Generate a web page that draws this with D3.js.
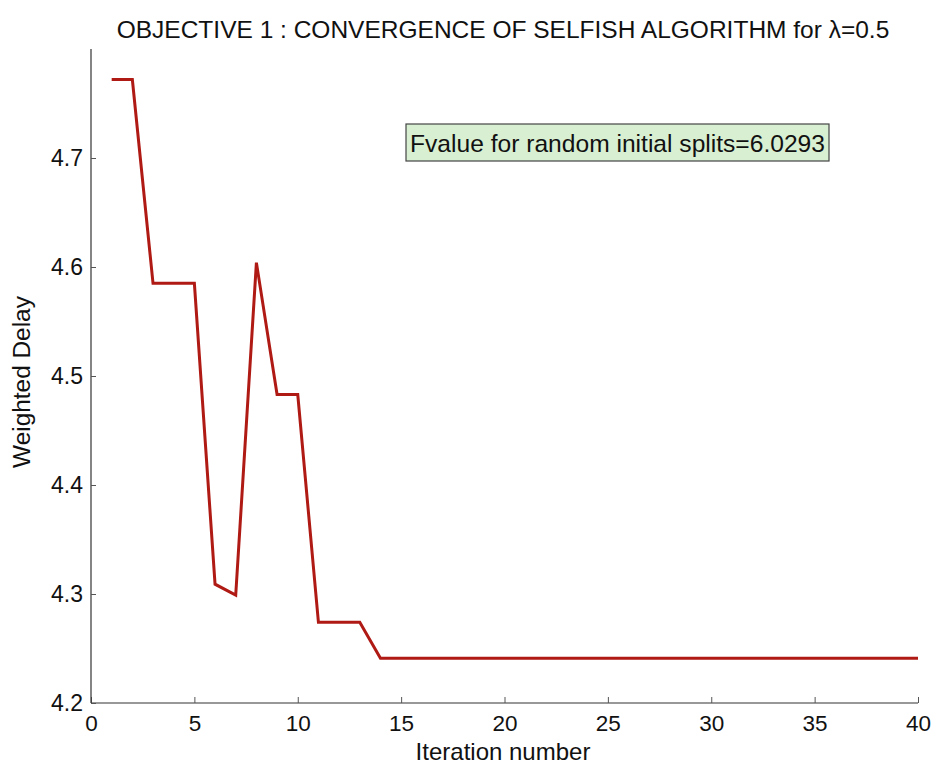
<!DOCTYPE html>
<html>
<head>
<meta charset="utf-8">
<script src="https://cdn.jsdelivr.net/npm/d3@7"></script>
<style>
  html, body { margin: 0; padding: 0; background: #fff; }
  svg { display: block; font-family: "Liberation Sans", Arial, sans-serif; }
</style>
</head>
<body>
<svg id="chart" width="935" height="766"></svg>
<script>
// Iteration numbers and the weighted delay reached at each one
const iterations = d3.range(1, 41);
const weightedDelay = [
  4.772, 4.772, 4.585, 4.585, 4.585, 4.309, 4.299, 4.604, 4.483, 4.483,
  4.274, 4.274, 4.274, 4.241, 4.241, 4.241, 4.241, 4.241, 4.241, 4.241,
  4.241, 4.241, 4.241, 4.241, 4.241, 4.241, 4.241, 4.241, 4.241, 4.241,
  4.241, 4.241, 4.241, 4.241, 4.241, 4.241, 4.241, 4.241, 4.241, 4.241
];
const xTicks = [0, 5, 10, 15, 20, 25, 30, 35, 40];
const yTicks = [4.2, 4.3, 4.4, 4.5, 4.6, 4.7];
const titleText = "OBJECTIVE 1 : CONVERGENCE OF SELFISH ALGORITHM for ";
const annotationText = "Fvalue for random initial splits=6.0293";

const svg = d3.select("#chart");
const plotL = 91, plotR = 918, plotT = 49, plotB = 703;

const x = d3.scaleLinear().domain([0, 40]).range([plotL, plotR]);
const y = d3.scaleLinear().domain([4.2, 4.8]).range([plotB, plotT]);

// Axes: ticks point into the plot area
const xAxis = d3.axisBottom(x).tickValues(xTicks).tickSize(-6).tickPadding(12).tickFormat(d3.format("d"));
const yAxis = d3.axisLeft(y).tickValues(yTicks).tickSize(-5).tickPadding(8).tickFormat(d3.format(".1f"));

const gx = svg.append("g").attr("transform", `translate(0,${plotB})`).call(xAxis);
const gy = svg.append("g").attr("transform", `translate(${plotL},0)`).call(yAxis);
[gx, gy].forEach(g => {
  g.select(".domain").attr("stroke", "#333").attr("stroke-width", 1.2);
  g.selectAll(".tick line").attr("stroke", "#555").attr("stroke-width", 1);
  g.selectAll(".tick text").attr("fill", "#111").style("font-size", "23px")
   .style("font-family", "'Liberation Sans', Arial, sans-serif");
});
gx.selectAll(".tick text").style("font-size", "22.5px");
// plain axis lines without end caps
gy.select(".domain").attr("d", `M0,${plotB}V${plotT}`);
gx.select(".domain").attr("d", `M${plotL},0H${plotR}`);

// Convergence curve
const line = d3.line().x((d, i) => x(iterations[i])).y(d => y(d));
svg.append("path")
  .datum(weightedDelay)
  .attr("fill", "none")
  .attr("stroke", "#b01a14")
  .attr("stroke-width", 3)
  .attr("stroke-linejoin", "miter")
  .attr("d", line);

// Title
const title = svg.append("text")
  .attr("x", 503).attr("y", 38)
  .attr("text-anchor", "middle")
  .style("font-size", "24.5px").attr("fill", "#111");
title.append("tspan").text(titleText);
title.append("tspan").text("λ");
title.append("tspan").text("=0.5");

// Axis labels
svg.append("text")
  .attr("x", 503).attr("y", 759.5)
  .attr("text-anchor", "middle")
  .style("font-size", "24px").attr("fill", "#111")
  .text("Iteration number");
svg.append("text")
  .attr("transform", `translate(30,382) rotate(-90)`)
  .attr("text-anchor", "middle")
  .style("font-size", "24.4px").attr("fill", "#111")
  .text("Weighted Delay");

// Annotation box
const ann = svg.append("g");
ann.append("rect")
  .attr("x", 406).attr("y", 124).attr("width", 423).attr("height", 37)
  .attr("fill", "#d9efd2").attr("stroke", "#444").attr("stroke-width", 1.2);
ann.append("text")
  .attr("x", 617.5).attr("y", 151.5)
  .attr("text-anchor", "middle")
  .style("font-size", "24.6px").attr("fill", "#111")
  .text(annotationText);
</script>
</body>
</html>
